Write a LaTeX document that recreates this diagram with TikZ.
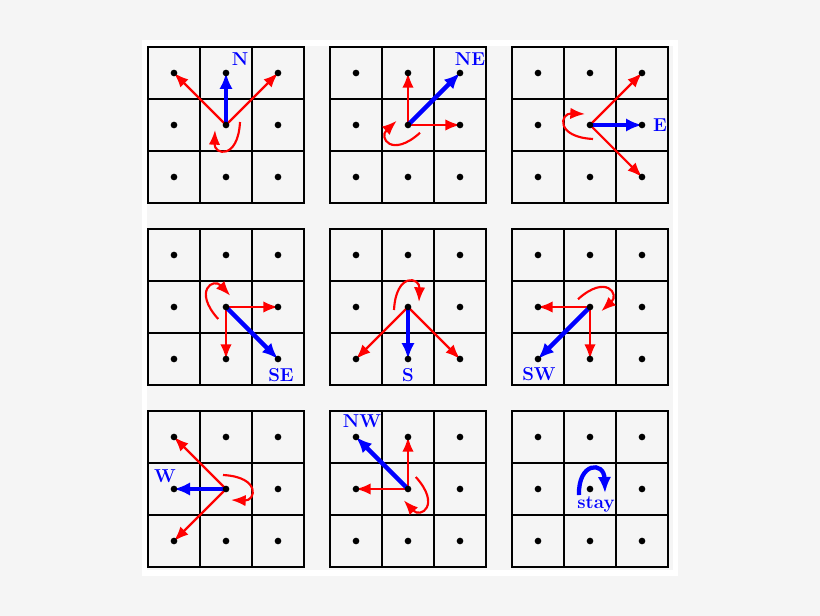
\documentclass[tikz,border=0pt]{standalone}
\usetikzlibrary{arrows.meta}
\definecolor{bg}{HTML}{F5F5F5}
\definecolor{myred}{RGB}{255,0,0}
\definecolor{myblue}{RGB}{0,0,255}
\begin{document}
\begin{tikzpicture}[x=0.75pt,y=-0.75pt,
  gridline/.style={line width=1.15pt, draw=black},
  redarrow/.style={draw=myred, line width=1.6pt, -{Latex[length=11pt,width=8.5pt]}},
  bluearrow/.style={draw=myblue, line width=3.2pt, -{Latex[length=12pt,width=10pt]}},
  lab/.style={text=myblue, font=\fontsize{14}{16}\selectfont\bfseries, inner sep=0pt}]
\useasboundingbox (0,0) rectangle (820,616);
\fill[bg] (0,0) rectangle (820,616);
\fill[white] (142,40) rectangle (678,576);
\fill[bg] (147,46) rectangle (673,570);
% panels
\foreach \p/\c/\r in {1/0/0,2/1/0,3/2/0,4/0/1,5/1/1,6/2/1,7/0/2,8/1/2,9/2/2}{
  \pgfmathsetmacro\xo{148+182*\c}
  \pgfmathsetmacro\yo{47+182*\r}
  \draw[gridline] (\xo,\yo) rectangle ++(156,156);
  \foreach \k in {1,2}{
    \draw[gridline] (\xo+52*\k,\yo) -- ++(0,156);
    \draw[gridline] (\xo,\yo+52*\k) -- ++(156,0);
  }
  \foreach \i in {0,1,2}{
    \foreach \j in {0,1,2}{
      \coordinate (p\p-\i\j) at (\xo+26+52*\i,\yo+26+52*\j);
    }
  }
}
% moves: panel / red1 / red2 / blue / rotation
\foreach \p/\ra/\rb/\bl/\rot in {1/00/20/10/0, 2/10/21/20/-45, 3/20/22/21/-90, 4/21/12/22/-135,
                                5/02/22/12/-180, 6/01/12/02/-225, 7/00/02/01/-270, 8/01/10/00/-315}{
  \draw[redarrow] (p\p-11) -- (p\p-\ra);
  \draw[redarrow] (p\p-11) -- (p\p-\rb);
  \draw[bluearrow] (p\p-11) -- (p\p-\bl);
  \draw[redarrow, shift={(p\p-11)}, rotate=\rot] (14,-3) .. controls (12,35) and (-12,30) .. (-11,5);
}
% stay
\draw[bluearrow, shift={(p9-11)}] (-11,6) .. controls (-12,-27) and (14,-28) .. (15,4);
% dots
\foreach \p in {1,...,9}{
  \foreach \i in {0,1,2}{
    \foreach \j in {0,1,2}{
      \fill[black] (p\p-\i\j) circle[radius=2.5pt];
    }
  }
}
% labels
\node[lab] (lN)  at ([shift={(14,-14)}]p1-10) {N};
\node[lab] (lNE) at ([shift={(10,-14)}]p2-20) {NE};
\node[lab] (lE)  at ([shift={(18,0)}]p3-21) {E};
\node[lab] (lSE) at ([shift={(3,16)}]p4-22) {SE};
\node[lab] (lS)  at ([shift={(0,16)}]p5-12) {S};
\node[lab] (lSW) at ([shift={(1,15)}]p6-02) {SW};
\node[lab] (lW)  at ([shift={(-9,-13)}]p7-01) {W};
\node[lab] (lNW) at ([shift={(6,-16)}]p8-00) {NW};
\node[lab] (lst) at ([shift={(6,15)}]p9-11) {stay};
\end{tikzpicture}
\end{document}
